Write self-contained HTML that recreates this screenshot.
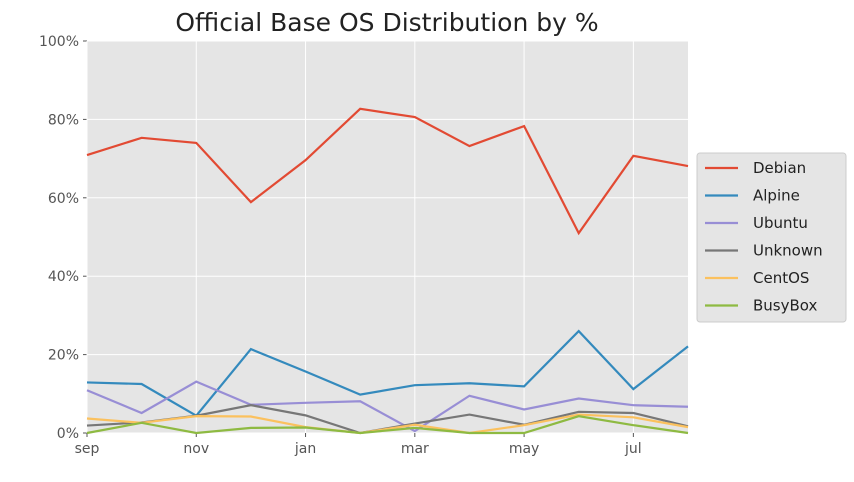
<!DOCTYPE html>
<html><head><meta charset="utf-8"><style>
body{margin:0;background:#fff;font-family:"DejaVu Sans","Liberation Sans",sans-serif}
</style></head><body>
<svg id="chart" width="854" height="478" xmlns="http://www.w3.org/2000/svg" font-family="DejaVu Sans, Liberation Sans, sans-serif"></svg>
<script>
const categories=["sep","oct","nov","dec","jan","feb","mar","apr","may","jun","jul","aug"];
const xTickLabels=["sep","nov","jan","mar","may","jul"];
const yTickValues=[0,20,40,60,80,100];
const seriesNames=["Debian","Alpine","Ubuntu","Unknown","CentOS","BusyBox"];
const debian=[70.9,75.3,74,58.9,69.6,82.7,80.6,73.2,78.3,51,70.7,68.1];
const alpine=[12.9,12.5,4.4,21.4,15.7,9.8,12.2,12.7,11.9,26,11.2,22.1];
const ubuntu=[10.9,5.1,13.1,7.2,7.7,8.1,0.5,9.5,6,8.8,7.1,6.7];
const unknown=[1.9,2.7,4.4,7.1,4.5,0,2.4,4.7,2.1,5.4,5.1,1.7];
const centos=[3.7,2.6,4.3,4.2,1.5,0,2.1,0,2,4.7,4,1.5];
const busybox=[0,2.6,0,1.3,1.4,0,1.3,0,0,4.3,2,0];
const seriesValues=[debian,alpine,ubuntu,unknown,centos,busybox];
const colors=["#e24a33","#348abd","#988ed5","#777777","#fbc15e","#8eba42"];
const L=87,R=688,T=41,B=433;
const NS="http://www.w3.org/2000/svg";
const svg=document.getElementById('chart');
const xs=i=>L+(R-L)*i/(categories.length-1);
const ys=v=>B-(B-T)*v/100;
function mk(tag,attrs,parent){const e=document.createElementNS(NS,tag);for(const k in attrs)e.setAttribute(k,attrs[k]);(parent||svg).appendChild(e);return e;}
const bg=mk('rect',{x:L,y:T,width:R-L,height:B-T,fill:'#e5e5e5'});


yTickValues.forEach(v=>{
 const g=mk('line',{x1:L,x2:R,y1:ys(v),y2:ys(v),stroke:'#fff','stroke-width':1});
 
 
 mk('line',{x1:L-4,x2:L,y1:ys(v),y2:ys(v),stroke:'#555'});
 const t=mk('text',{x:L-8,y:ys(v)+5,'text-anchor':'end','font-size':14,fill:'#555'});
 t.textContent=v+'%';
 
 
});
xTickLabels.forEach(lab=>{
 const i=categories.indexOf(lab);
 const g=mk('line',{x1:xs(i),x2:xs(i),y1:T,y2:B,stroke:'#fff','stroke-width':1});
 
 
 mk('line',{x1:xs(i),x2:xs(i),y1:B,y2:B+4,stroke:'#555'});
 const t=mk('text',{x:xs(i),y:B+20,'text-anchor':'middle','font-size':14,fill:'#555'});
 t.textContent=lab;
 
 
});
seriesValues.forEach((vals,s)=>{
 const p=mk('polyline',{points:vals.map((v,i)=>xs(i)+','+ys(v)).join(' '),fill:'none',stroke:colors[s],'stroke-width':2.2});
 
 
});
const title=mk('text',{x:387,y:31,'text-anchor':'middle','font-size':25,fill:'#222'});
title.textContent='Official Base OS Distribution by %';


const lg=mk('g',{});


mk('rect',{x:697,y:153,width:149,height:169,fill:'#e5e5e5',stroke:'#ccc',rx:3},lg);
seriesNames.forEach((n,s)=>{
 const y=168+s*27.5;
 const e=mk('g',{},lg);
 
 
 mk('line',{x1:705,x2:738,y1:y,y2:y,stroke:colors[s],'stroke-width':2.2},e);
 const t=mk('text',{x:753,y:y+5,'font-size':15,fill:'#222'},e);
 t.textContent=n;
});
</script>
</body></html>
